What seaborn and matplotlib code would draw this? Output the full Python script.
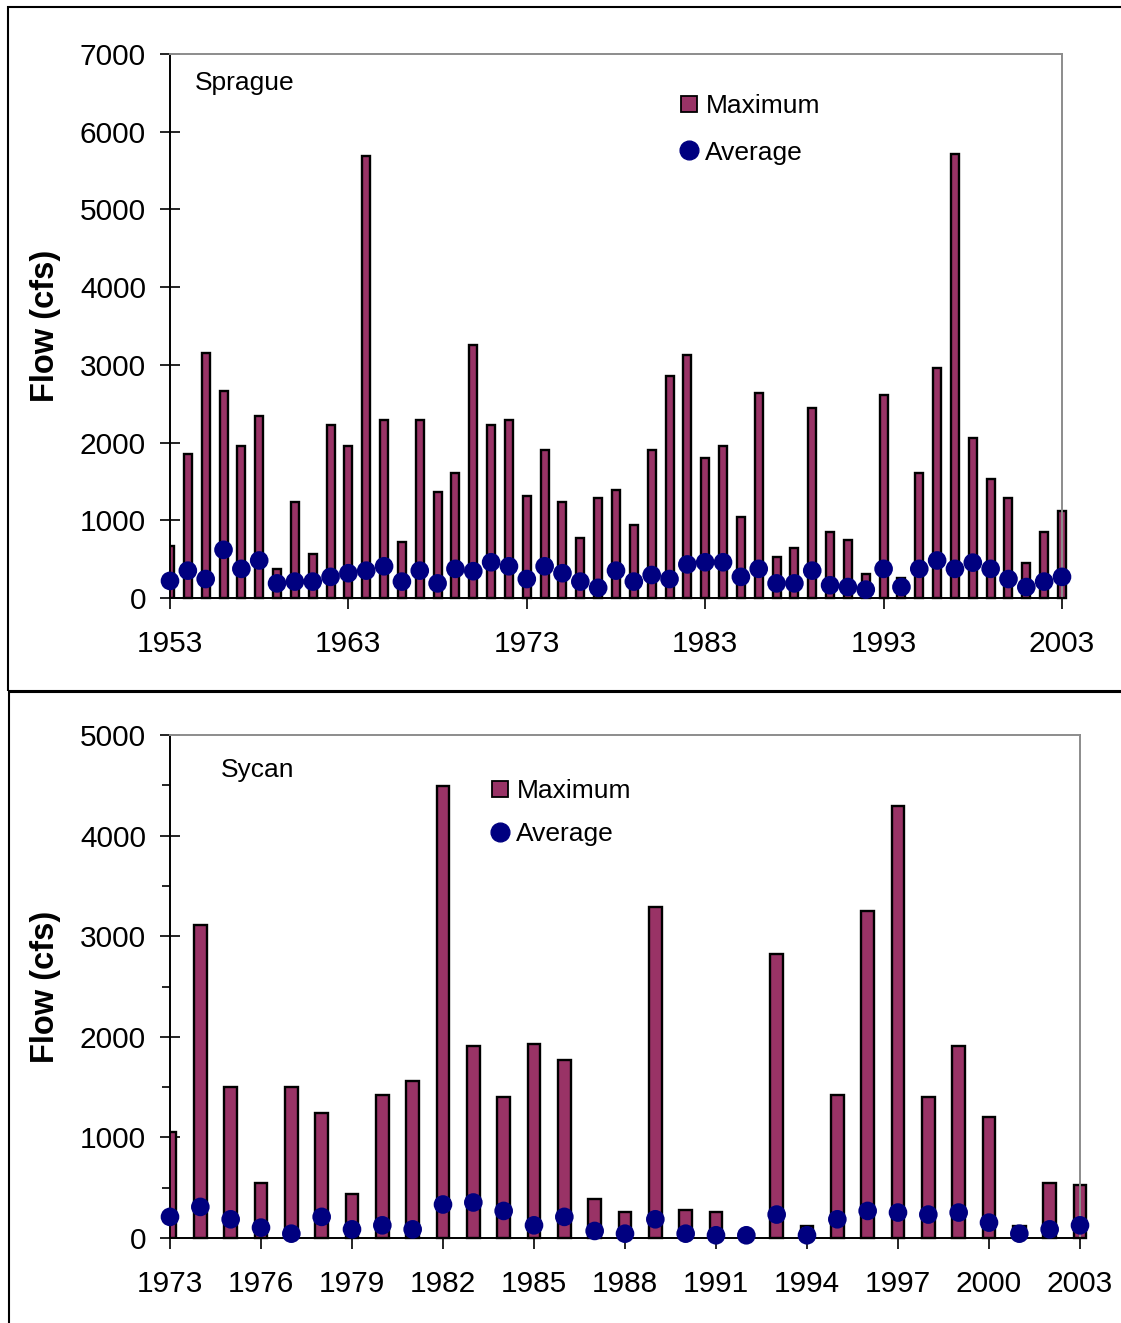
import numpy as np
import pandas as pd
import matplotlib
matplotlib.use("Agg")
import matplotlib.pyplot as plt
from matplotlib.patches import Rectangle
from matplotlib.lines import Line2D
from matplotlib.ticker import MultipleLocator
import seaborn as sns

# ---------------- data ----------------
sprague_years = list(range(1953, 2004))
sprague_max = [670, 1850, 3150, 2660, 1960, 2340, 370, 1230, 560, 2230,
               1960, 5690, 2285, 720, 2285, 1370, 1610, 3257, 2230, 2285,
               1314, 1905, 1230, 774, 1286, 1394, 934, 1905, 2853, 3121,
               1797, 1962, 1042, 2637, 530, 643, 2440, 854, 741, 314,
               2609, 258, 1605, 2956, 5711, 2065, 1525, 1286, 446, 854, 1117]
sprague_avg = [220, 352, 244, 620, 375, 483, 188, 211, 211, 272,
               319, 352, 408, 211, 352, 188, 375, 345, 460, 408,
               244, 408, 319, 211, 131, 352, 211, 296, 244, 432,
               460, 460, 272, 375, 188, 188, 352, 164, 141, 108,
               375, 141, 375, 483, 375, 455, 375, 244, 141, 211, 272]

sycan_years = list(range(1973, 2004))
sycan_max = [1058, 3114, 1500, 549, 1500, 1241, 442, 1424, 1564, 4491,
             1913, 1400, 1930, 1766, 383, 260, 3294, 283, 260, 30,
             2828, 120, 1424, 3254, 4291, 1400, 1913, 1198, 120, 542, 526]
sycan_avg = [210, 309, 186, 103, 43, 210, 86, 126, 86, 333,
             353, 269, 126, 210, 70, 43, 186, 43, 27, 27,
             233, 27, 186, 269, 253, 233, 253, 153, 43, 86, 126]

top_yticks = [0, 1000, 2000, 3000, 4000, 5000, 6000, 7000]
top_xticks = [1953, 1963, 1973, 1983, 1993, 2003]
bot_yticks = [0, 1000, 2000, 3000, 4000, 5000]
bot_xticks = [1973, 1976, 1979, 1982, 1985, 1988, 1991, 1994, 1997, 2000, 2003]

BAR_COLOR = "#993366"
DOT_COLOR = "#000080"

sns.set_style("white")
plt.rcParams["font.family"] = ["Liberation Sans", "DejaVu Sans"]
plt.rcParams["text.color"] = "black"
plt.rcParams["axes.labelcolor"] = "black"
plt.rcParams["xtick.color"] = "black"
plt.rcParams["ytick.color"] = "black"

W, H = 1121, 1323
fig = plt.figure(figsize=(W / 100, H / 100), dpi=100)
fig.patch.set_facecolor("white")


def px_axes(l, t, r, b):
    return fig.add_axes([l / W, 1 - b / H, (r - l) / W, (b - t) / H])


def panel(ax, years, maxv, avgv, yticks, xticks, barw, title, title_xy,
          leg_xy, leg_spacing, minor=None):
    df = pd.DataFrame({"year": years, "max": maxv, "avg": avgv})
    sns.barplot(data=df, x="year", y="max", native_scale=True, width=barw,
                color=BAR_COLOR, saturation=1, edgecolor="black",
                linewidth=1.7, errorbar=None, ax=ax, zorder=2)
    for i, p in enumerate(ax.patches):
        if i != 0:
            p.set_clip_on(False)
    sns.scatterplot(data=df, x="year", y="avg", color=DOT_COLOR, s=180,
                    edgecolor="none", linewidth=0, ax=ax, zorder=5,
                    clip_on=False)
    ax.set_xlim(years[0], years[-1])
    ax.set_ylim(yticks[0], yticks[-1])
    ax.set_xticks(xticks)
    ax.set_xticklabels([str(x) for x in xticks])
    ax.set_yticks(yticks)
    ax.set_yticklabels([str(y) for y in yticks])
    if minor:
        ax.yaxis.set_minor_locator(MultipleLocator(minor))
        ax.tick_params(axis="y", which="minor", direction="out", length=6,
                       width=1.2, color="black", left=True)
    ax.tick_params(axis="y", which="major", direction="inout", length=14.5,
                   width=1.2, labelsize=21.5, pad=10, color="black",
                   labelcolor="black", left=True)
    ax.tick_params(axis="x", which="major", direction="out", length=8,
                   width=1.2, labelsize=21.5, pad=15, color="black",
                   labelcolor="black", bottom=True)
    ax.set_xlabel("")
    ax.set_ylabel("Flow (cfs)", fontsize=23.5, fontweight="bold",
                  color="black")
    for side in ("left", "bottom"):
        ax.spines[side].set_color("black")
        ax.spines[side].set_linewidth(1.4)
    for side in ("top", "right"):
        ax.spines[side].set_color("#8c8c8c")
        ax.spines[side].set_linewidth(1.4)
    ax.text(title_xy[0], title_xy[1], title, transform=ax.transAxes,
            fontsize=19, ha="left", va="center", color="black")
    handles = [
        Line2D([], [], linestyle="none", marker="s", markersize=11,
               markerfacecolor=BAR_COLOR, markeredgecolor="black",
               markeredgewidth=1.3, label="Maximum"),
        Line2D([], [], linestyle="none", marker="o", markersize=13.5,
               markerfacecolor=DOT_COLOR, markeredgecolor=DOT_COLOR,
               label="Average"),
    ]
    leg = ax.legend(handles=handles, loc="upper left", bbox_to_anchor=leg_xy,
                    frameon=False, fontsize=19, handlelength=0.6,
                    handletextpad=0.32, labelspacing=leg_spacing,
                    borderpad=0, borderaxespad=0)
    for t in leg.get_texts():
        t.set_color("black")


# top panel
ax1 = px_axes(170, 54, 1062, 598)
panel(ax1, sprague_years, sprague_max, sprague_avg, top_yticks, top_xticks,
      0.45, "Sprague", (0.028, 0.947), (0.573, 0.926), 0.85)
ax1.yaxis.set_label_coords(-0.122, 0.5)

# bottom panel
ax2 = px_axes(170, 735, 1080, 1238)
panel(ax2, sycan_years, sycan_max, sycan_avg, bot_yticks, bot_xticks,
      0.42, "Sycan", (0.056, 0.93), (0.354, 0.912), 0.7, minor=500)
ax2.yaxis.set_label_coords(-0.12, 0.5)

# outer frames
fig.add_artist(Rectangle((8 / W, 1 - 691 / H), 1.2, (691 - 7) / H,
                         transform=fig.transFigure, fill=False,
                         edgecolor="black", linewidth=1.5, clip_on=False))
fig.add_artist(Rectangle((9 / W, -0.1), 1.2, 0.1 + 1 - 692 / H,
                         transform=fig.transFigure, fill=False,
                         edgecolor="black", linewidth=1.5, clip_on=False))

fig.savefig("out.png", dpi=100, facecolor="white")
